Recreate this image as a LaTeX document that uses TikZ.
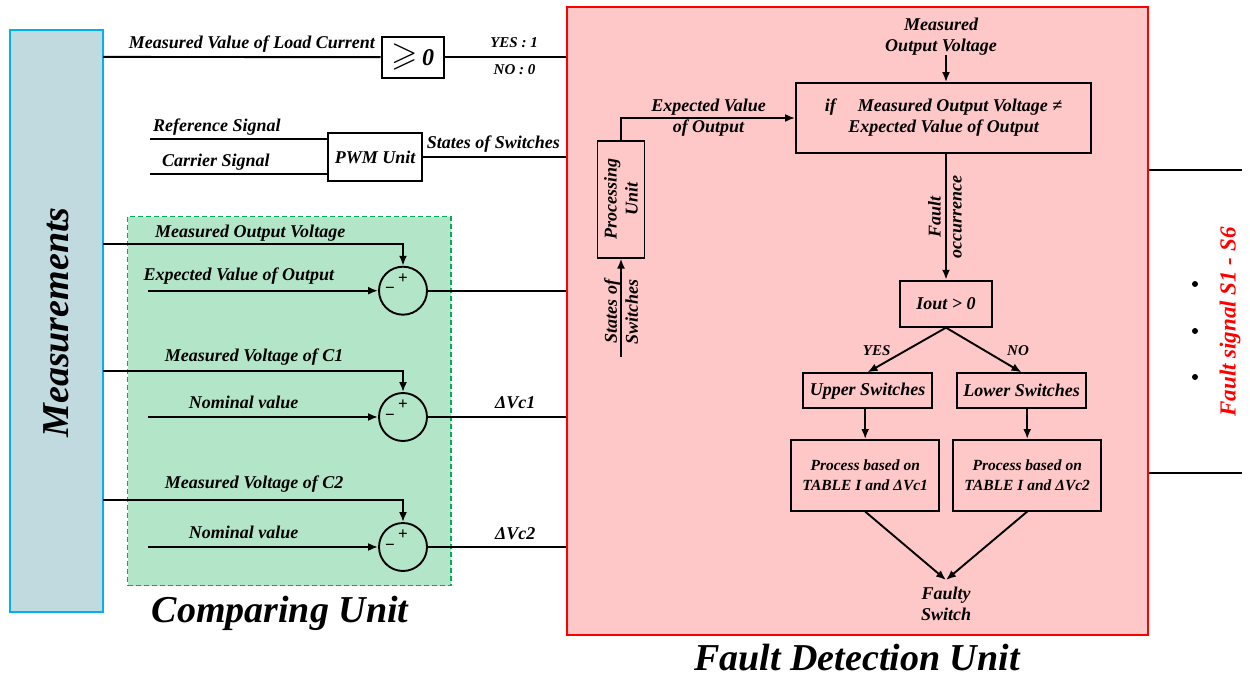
\documentclass[tikz,border=0pt]{standalone}
\usepackage{fontspec}
\usepackage{amssymb}
\setmainfont{Liberation Serif}
\usetikzlibrary{arrows.meta,calc}
\definecolor{measfill}{RGB}{192,218,224}
\definecolor{measdraw}{RGB}{0,176,240}
\definecolor{cmpfill}{RGB}{179,230,200}
\definecolor{cmpdraw}{RGB}{0,176,80}
\definecolor{fdfill}{RGB}{255,200,200}
\definecolor{fddraw}{RGB}{255,0,0}
\begin{document}
\begin{tikzpicture}[x=1pt,y=-1pt,
  wire/.style={line width=1.9pt},
  arr/.style={line width=1.9pt,-{Latex[length=10pt,width=8pt]}},
  blk/.style={draw,line width=1.9pt,inner sep=0pt,align=center,font=\fontsize{18}{21}\selectfont\bfseries\itshape},
  lbl/.style={inner sep=0pt,align=center,font=\fontsize{18}{21}\selectfont\bfseries\itshape},
  sml/.style={inner sep=0pt,align=center,font=\fontsize{15}{20}\selectfont\bfseries\itshape},
  big/.style={inner sep=0pt,font=\fontsize{38}{40}\selectfont\bfseries\itshape},
  sumc/.style={draw,circle,line width=1.9pt,minimum size=48pt,inner sep=0pt},
  sgn/.style={inner sep=0pt,font=\fontsize{17}{17}\selectfont\bfseries},
]
\useasboundingbox (0,0) rectangle (1250,679);
% panels
\node[draw=measdraw,fill=measfill,line width=2pt,minimum width=93pt,minimum height=582pt,inner sep=0pt] (meas) at (56.5,321) {};
\node[draw=cmpdraw,fill=cmpfill,dash pattern=on 5pt off 3pt,line width=1.4pt,minimum width=323.4pt,minimum height=369pt,inner sep=0pt] (cmp) at (289.3,401.2) {};
\node[draw=fddraw,fill=fdfill,line width=2.2pt,minimum width=581pt,minimum height=627.7pt,inner sep=0pt] (fd) at (857.5,321.2) {};
\node[big,rotate=90] (meastxt) at (56,322.5) {Measurements};
\node[big] (cmptxt) at (280,613) {Comparing Unit};
\node[big] (fdtxt) at (857,658) {Fault Detection Unit};

% top row
\coordinate (m1) at (103,56.9);
\node[blk,minimum width=62.3pt,minimum height=41pt] (geq) at (412.8,57.2) {\fontsize{34}{34}\selectfont$\geqslant$\fontsize{24}{24}\selectfont\,0};
\draw[wire] (m1) -- (geq.west);
\draw[wire] (geq.east) -- (geq.east -| fd.west);
\node[lbl,anchor=base east] (lc) at (375,49) {Measured Value of Load Current};
\node[sml] (yes1) at (514,43) {YES : 1};
\node[sml] (no0) at (514.5,70) {NO : 0};

% PWM
\node[blk,minimum width=94pt,minimum height=48pt] (pwm) at (375.2,157) {PWM Unit};
\coordinate (rs) at (150,139);
\coordinate (cs) at (150,174);
\draw[wire] (rs) -- (rs -| pwm.west);
\draw[wire] (cs) -- (cs -| pwm.west);
\node[lbl,anchor=base west] (rstxt) at (153,132) {Reference Signal};
\node[lbl,anchor=base west] (cstxt) at (162,167) {Carrier Signal};
\draw[wire] (pwm.east) -- (pwm.east -| fd.west);
\node[lbl,anchor=base east] (sstxt) at (560,149) {States of Switches};

% comparing unit
\node[sumc] (s1) at (403,290.7) {};
\node[sumc] (s2) at (403,417) {};
\node[sumc] (s3) at (403,547) {};
\coordinate (c1) at (103,244.3);
\coordinate (c2) at (103,371);
\coordinate (c3) at (103,500);
\coordinate (e1) at (148,290.7);
\coordinate (e2) at (148,417);
\coordinate (e3) at (148,547);
\draw[arr] (c1) -| (s1.north);
\draw[arr] (c2) -| (s2.north);
\draw[arr] (c3) -| (s3.north);
\draw[arr] (e1) -- (s1.west);
\draw[arr] (e2) -- (s2.west);
\draw[arr] (e3) -- (s3.west);
\draw[wire] (s1.east) -- (s1.east -| fd.west);
\draw[wire] (s2.east) -- (s2.east -| fd.west);
\draw[wire] (s3.east) -- (s3.east -| fd.west);
\foreach \s in {s1,s2,s3}{
  \node[sgn] (\s p) at ($(\s)+(0,-12.5)$) {+};
  \node[sgn] (\s m) at ($(\s)+(-13,0)$) {−};
}
\node[lbl,anchor=base west] (t1) at (155,237) {Measured Output Voltage};
\node[lbl,anchor=base west] (t2) at (143.5,280) {Expected Value of Output};
\node[lbl,anchor=base west] (t3) at (164.6,361) {Measured Voltage of C1};
\node[lbl,anchor=base west] (t4) at (188.7,408) {Nominal value};
\node[lbl,anchor=base west] (t5) at (495,408) {ΔVc1};
\node[lbl,anchor=base west] (t6) at (164.6,488) {Measured Voltage of C2};
\node[lbl,anchor=base west] (t7) at (188.7,538) {Nominal value};
\node[lbl,anchor=base west] (t8) at (495,539) {ΔVc2};

% fault detection flowchart
\node[lbl] (mov) at (941,36.5) {Measured\\Output Voltage};
\node[blk,minimum width=295pt,minimum height=70pt] (ifb) at (943.5,118) {if\hspace{22pt}Measured Output Voltage ≠\\Expected Value of Output};
\node[blk,minimum width=92.3pt,minimum height=46pt] (iout) at (946,303.7) {Iout > 0};
\draw[arr] (iout.north |- mov.south) -- (iout.north |- ifb.north);
\node[blk,minimum width=47pt,minimum height=116.7pt] (pu) at (621,199.3) {};
\node[lbl,rotate=90] (putxt) at (pu.center) {Processing\\Unit};
\draw[arr] (pu.north) |- (ifb.west);
\node[lbl] (evo) at (708.5,117.5) {Expected Value\\of Output};
\coordinate (ssin) at (621,356.7);
\draw[arr] (ssin) -- (pu.south);
\node[lbl,rotate=90] (sstxt2) at (621,311.7) {States of\\Switches};
\draw[arr] (iout.north |- ifb.south) -- (iout.north);
\node[lbl,rotate=90] (fo) at (945,217) {Fault\\occurrence};
\node[blk,minimum width=128.4pt,minimum height=35pt] (upper) at (867.5,390.8) {Upper Switches};
\node[blk,minimum width=128.4pt,minimum height=35pt] (lower) at (1021.5,390.8) {Lower Switches};
\draw[arr] (iout.south) -- (upper.north);
\draw[arr] (iout.south) -- (lower.north);
\node[sml] (yes) at (876.7,350.7) {YES};
\node[sml] (no) at (1018,350.7) {NO};
\node[blk,font=\fontsize{15.5}{20}\selectfont\bfseries\itshape,minimum width=148.4pt,minimum height=70.7pt] (p1) at (865.2,475.3) {Process based on\\TABLE I and ΔVc1};
\node[blk,font=\fontsize{15.5}{20}\selectfont\bfseries\itshape,minimum width=148.4pt,minimum height=70.7pt] (p2) at (1027.2,475.3) {Process based on\\TABLE I and ΔVc2};
\draw[arr] (upper.south -| p1.north) -- (p1.north);
\draw[arr] (lower.south -| p2.north) -- (p2.north);
\coordinate (fsin) at (946,580);
\draw[arr] (p1.south) -- (fsin);
\draw[arr] (p2.south) -- (fsin);
\node[lbl] (fs) at (946,604) {Faulty\\Switch};

% outputs
\coordinate (o1) at (1242,170);
\coordinate (o2) at (1242,472.7);
\draw[wire] (o1 -| fd.east) -- (o1);
\draw[wire] (o2 -| fd.east) -- (o2);
\fill (1195,284) circle (3pt);
\fill (1195,331) circle (3pt);
\fill (1195,377) circle (3pt);
\node[inner sep=0pt,rotate=90,text=fddraw,font=\fontsize{23}{23}\selectfont\bfseries\itshape] (fsig) at (1230,322) {Fault signal S1 - S6};
\end{tikzpicture}
\end{document}
